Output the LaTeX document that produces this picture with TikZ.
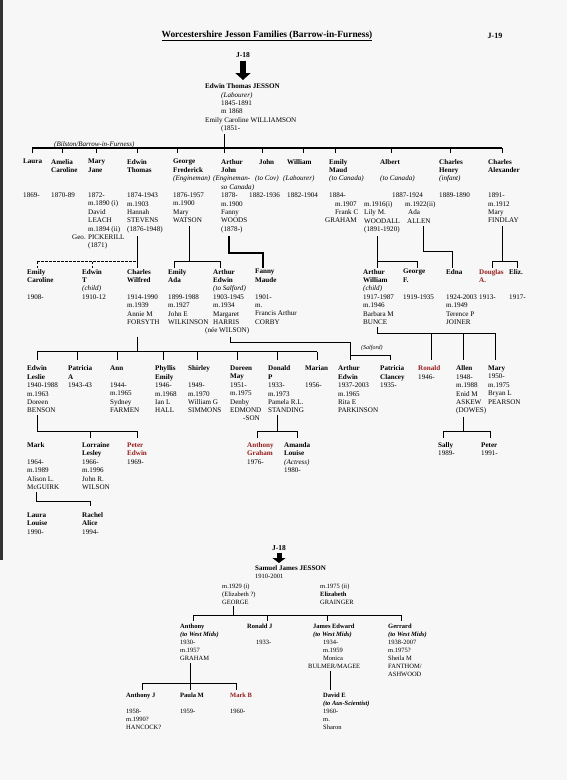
\documentclass[tikz,border=0pt]{standalone}
\usepackage{fontspec}
\setmainfont{Liberation Serif}
\usetikzlibrary{arrows.meta}
\definecolor{kinred}{RGB}{150,28,28}
\newcommand{\kin}[1]{\textcolor{kinred}{#1}}
\newcommand{\blankrow}{\mbox{}}

\begin{document}
\begin{tikzpicture}[
  x=1pt, y=-1pt,
  pers/.style={anchor=north west, align=left, inner sep=0pt,
               font=\fontsize{7.1}{8.4}\selectfont},
  perss/.style={pers, font=\fontsize{6.5}{8}\selectfont},
  head/.style={inner sep=0pt, font=\bfseries\fontsize{7.5}{9}\selectfont},
  note/.style={anchor=west, inner sep=0pt, font=\itshape\fontsize{6}{7}\selectfont},
  link/.style={line width=0.7pt},
  fatlink/.style={line width=1.8pt},
  dashlink/.style={line width=0.7pt, dash pattern=on 2.5pt off 1.5pt},
  bigarrow/.style={line width=6pt, -{Triangle[length=7pt,width=15pt]}},
]
% page
\fill[black!3] (0,0) rectangle (567,780);
\fill[black!80] (0,0) rectangle (2.5,560);
\useasboundingbox (0,0) rectangle (567,780);

% Heading
\node[inner sep=0pt, font=\bfseries\fontsize{9.4}{11}\selectfont] (title) at (267,36)
  {\underline{Worcestershire Jesson Families (Barrow-in-Furness)}};
\node[head, font=\bfseries\fontsize{8}{9}\selectfont] (j19) at (495,36) {J-19};
\node[head] (j18a) at (243,55) {J-18};
\node[pers] (edwinsr) at (205,83.5) {\textbf{Edwin Thomas JESSON}\\
  \hspace*{16pt}\textit{(Labourer)}\\ \hspace*{16pt}1845-1891\\ \hspace*{16pt}m 1868\\
  Emily Caroline WILLIAMSON\\ \hspace*{16pt}(1851-};
\draw[bigarrow] ([yshift=-3pt]j18a.south) -- ([yshift=3.5pt]j18a.south |- edwinsr.north);
\node[note, font=\itshape\fontsize{7}{8}\selectfont] (bilston) at (54,144.5) {(Bilston/Barrow-in-Furness)};

% Children of Edwin Thomas
\node[pers] (laura) at (23,159) {\textbf{Laura}\\ \blankrow\\ \blankrow\\ \blankrow\\ 1869-};
\node[pers] (amelia) at (51,159) {\textbf{Amelia}\\ \textbf{Caroline}\\ \blankrow\\ \blankrow\\ 1870-89};
\node[pers] (maryj) at (88,159) {\textbf{Mary}\\ \textbf{Jane}\\ \blankrow\\ \blankrow\\ 1872-\\
  m.1890 (i)\\ David\\ LEACH\\ m.1894 (ii)\\ \hspace*{-16pt}Geo. PICKERILL\\ (1871)};
\node[pers] (edwinth) at (127,159) {\textbf{Edwin}\\ \textbf{Thomas}\\ \blankrow\\ \blankrow\\
  1874-1943\\ m.1903\\ Hannah\\ STEVENS\\ (1876-1948)};
\node[pers] (georgef) at (173,159) {\textbf{George}\\ \textbf{Frederick}\\ \textit{(Engineman)}\\
  \blankrow\\ 1876-1957\\ m.1900\\ Mary\\ WATSON};
\node[pers] (arthurj) at (221,159) {\textbf{Arthur}\\ \textbf{John}\\ \hspace*{-8pt}\textit{(Engineman-}\\
  \textit{so Canada)}\\ 1878-\\ m.1900\\ Fanny\\ WOODS\\ (1878-)};
\node[pers] (johnc) at (259,159) {\textbf{John}\\ \blankrow\\ \hspace*{-4pt}\textit{(to Cov)}\\
  \blankrow\\ \hspace*{-10pt}1882-1936};
\node[pers] (william) at (287,159) {\textbf{William}\\ \blankrow\\ \hspace*{-4pt}\textit{(Labourer)}\\
  \blankrow\\ 1882-1904};
\node[pers] (emilym) at (329,159) {\textbf{Emily}\\ \textbf{Maud}\\ \textit{(to Canada)}\\ \blankrow\\
  1884-\\ \hspace*{6pt}m.1907\\ \hspace*{6pt}Frank C\\ \hspace*{-4pt}GRAHAM};
\node[pers] (albert) at (380,159) {\textbf{Albert}\\ \blankrow\\ \textit{(to Canada)}\\ \blankrow\\
  \hspace*{12pt}1887-1924};
\node[pers] (albsp1) at (364,201.2) {m.1916(i)\\ Lily M.\\ WOODALL\\ (1891-1920)};
\node[pers] (albsp2) at (405,201.2) {m.1922(ii)\\ \hspace*{3pt}Ada\\ \hspace*{2pt}ALLEN};
\node[pers] (charlesh) at (439,159) {\textbf{Charles}\\ \textbf{Henry}\\ \textit{(infant)}\\ \blankrow\\ 1889-1890};
\node[pers] (charlesa) at (488,159) {\textbf{Charles}\\ \textbf{Alexander}\\ \blankrow\\ \blankrow\\
  1891-\\ m.1912\\ Mary\\ FINDLAY};

\coordinate (b1) at (0,148);
\coordinate (e1) at (0,153);
\draw[link, line width=1pt] ([xshift=19pt,yshift=-2pt]edwinsr.south west) -- ([xshift=19pt]edwinsr.south west |- b1);
\draw[link, line width=1.1pt] ([xshift=9pt]laura.north west |- b1) -- ([xshift=14pt]charlesa.north west |- b1);
\foreach \p/\dx in {laura/9, amelia/11, maryj/8, edwinth/10, georgef/4, arthurj/3,
                    johnc/3, william/16, emilym/6, albert/11, charlesh/11, charlesa/14}
  \draw[link] ([xshift=\dx pt]\p.north west |- b1) -- ([xshift=\dx pt]\p.north west |- e1);

% Grandchildren
\node[pers] (emilyc) at (27,269) {\textbf{Emily}\\ \textbf{Caroline}\\ \blankrow\\ 1908-};
\node[pers] (edwint) at (82,269) {\textbf{Edwin}\\ \textbf{T}\\ \textit{(child)}\\ 1910-12};
\node[pers] (charlesw) at (127,269) {\textbf{Charles}\\ \textbf{Wilfred}\\ \blankrow\\ 1914-1990\\
  m.1939\\ Annie M\\ FORSYTH};
\node[pers] (emilya) at (168,269) {\textbf{Emily}\\ \textbf{Ada}\\ \blankrow\\ 1899-1988\\ m.1927\\
  John E\\ WILKINSON};
\node[pers] (arthure) at (213,269) {\textbf{Arthur}\\ \textbf{Edwin}\\ \textit{(to Salford)}\\ 1903-1945\\
  m.1934\\ Margaret\\ HARRIS\\ \hspace*{-8pt}(née WILSON)};
\node[pers] (fannym) at (255,269) {\textbf{Fanny}\\ \textbf{Maude}\\ \blankrow\\ 1901-\\ m.\\
  Francis Arthur\\ CORBY};
\node[pers] (arthurw) at (363,269) {\textbf{Arthur}\\ \textbf{William}\\ \textit{(child)}\\ 1917-1987\\
  m.1946\\ Barbara M\\ BUNCE};
\node[pers] (georgeb) at (403,269) {\textbf{George}\\ \textbf{F.}\\ \blankrow\\ 1919-1935};
\node[pers] (edna) at (446,269) {\textbf{Edna}\\ \blankrow\\ \blankrow\\ 1924-2003\\ m.1949\\
  Terence P\\ JOINER};
\node[pers] (douglas) at (479,269) {\textbf{\kin{Douglas}}\\ \textbf{\kin{A.}}\\ \blankrow\\ 1913-};
\node[pers] (eliz) at (509,269) {\textbf{Eliz.}\\ \blankrow\\ \blankrow\\ 1917-};

\coordinate (b2) at (0,261.7);
\coordinate (e2) at (0,268);
% Edwin Thomas / Mary Jane
\draw[link] ([xshift=10pt,yshift=-3pt]edwinth.south west) -- ([xshift=10pt]charlesw.north west |- e2);
\draw[dashlink] ([xshift=10pt]emilyc.north west |- b2) -- ([xshift=10pt]charlesw.north west |- b2);
\foreach \p in {emilyc, edwint}
  \draw[dashlink] ([xshift=10pt]\p.north west |- b2) -- ([xshift=10pt]\p.north west |- e2);
% George Frederick
\draw[link] ([xshift=16pt,yshift=-3pt]georgef.south west) -- ([xshift=16pt]georgef.south west |- b2);
\draw[link] ([xshift=6pt]emilya.north west |- e2) |- ([xshift=7pt]arthure.north west |- b2)
  -- ([xshift=7pt]arthure.north west |- e2);
% Arthur John
\coordinate (f2) at (0,253);
\draw[fatlink] ([xshift=8pt,yshift=-3pt]arthurj.south west) |- ([xshift=8pt]fannym.north west |- f2)
  -- ([xshift=8pt]fannym.north west |- e2);
% Albert
\draw[link] ([xshift=13pt,yshift=-3pt]albsp1.south west) -- ([xshift=14pt]arthurw.north west |- e2);
\draw[link] ([xshift=14pt]arthurw.north west |- b2) -| ([xshift=14pt]georgeb.north west |- e2);
\coordinate (a2) at (0,251.7);
\draw[link, line width=1pt] ([xshift=18pt,yshift=-3pt]albsp2.south west) |- ([xshift=6pt]edna.north west |- a2)
  -- ([xshift=6pt]edna.north west |- e2);
% Charles Alexander
\draw[link, line width=1pt] ([xshift=14pt,yshift=-3pt]charlesa.south west) -- ([xshift=14pt]charlesa.south west |- b2);
\draw[link, line width=1pt] ([xshift=13pt]douglas.north west |- e2) |- ([xshift=8pt]eliz.north west |- b2)
  -- ([xshift=8pt]eliz.north west |- e2);

% Great-grandchildren
\node[pers] (edwinl) at (27,365.7) {\textbf{Edwin}\\ \textbf{Leslie}\\ 1940-1988\\ m.1963\\ Doreen\\ BENSON};
\node[pers] (patriciaa) at (68,365.7) {\textbf{Patricia}\\ \textbf{A}\\ 1943-43};
\node[pers] (ann) at (110,365.7) {\textbf{Ann}\\ \blankrow\\ 1944-\\ m.1965\\ Sydney\\ FARMEN};
\node[pers] (phyllis) at (155,365.7) {\textbf{Phyllis}\\ \textbf{Emily}\\ 1946-\\ m.1968\\ Ian L\\ HALL};
\node[pers] (shirley) at (188,365.7) {\textbf{Shirley}\\ \blankrow\\ 1949-\\ m.1970\\ William G\\ SIMMONS};
\node[pers] (doreen) at (230,365.7) {\textbf{Doreen}\\ \textbf{May}\\ 1951-\\ m.1975\\ Denby\\ EDMOND\\
  \hspace*{13pt}-SON};
\node[pers] (donald) at (268,365.7) {\textbf{Donald}\\ \textbf{P}\\ 1933-\\ m.1973\\ Pamela R.L.\\ STANDING};
\node[pers] (marian) at (305,365.7) {\textbf{Marian}\\ \blankrow\\ 1956-};
\node[pers] (arthured) at (338,365.7) {\textbf{Arthur}\\ \textbf{Edwin}\\ 1937-2003\\ m.1965\\ Rita E\\ PARKINSON};
\node[pers] (patriciac) at (380,365.7) {\textbf{Patricia}\\ \textbf{Clancey}\\ 1935-};
\node[pers] (ronald) at (418,365.7) {\textbf{\kin{Ronald}}\\ 1946-};
\node[pers] (allen) at (456,365.7) {\textbf{Allen}\\ 1948-\\ m.1988\\ Enid M\\ ASKEW\\ (DOWES)};
\node[pers] (mary) at (488,365.7) {\textbf{Mary}\\ 1950-\\ m.1975\\ Bryan L\\ PEARSON};

\coordinate (t3) at (0,336.7);
\coordinate (b3) at (0,351.7);
\coordinate (e3) at (0,359.5);
% Charles Wilfred
\draw[link] ([xshift=10pt]charlesw.south west |- t3) -- ([xshift=10pt]charlesw.south west |- b3);
\draw[link] ([xshift=10pt]edwinl.north west |- b3) -- ([xshift=12pt]marian.north west |- b3);
\foreach \p/\dx in {edwinl/10, patriciaa/9, ann/7, phyllis/8, shirley/9, doreen/7, donald/9, marian/12}
  \draw[link] ([xshift=\dx pt]\p.north west |- b3) -- ([xshift=\dx pt]\p.north west |- e3);
% Arthur Edwin (Salford)
\coordinate (s3) at (0,342.5);
\coordinate (c3) at (0,355.5);
\draw[link] ([xshift=17pt]arthure.south west |- t3) |- ([xshift=12pt]arthured.north west |- s3)
  -- ([xshift=12pt]arthured.north west |- e3);
\draw[link] ([xshift=12pt]arthured.north west |- c3) -| ([xshift=10pt]patriciac.north west |- e3);
\node[note] (salford) at (361,348) {(Salford)};
% Arthur William
\coordinate (u3) at (0,333.3);
\draw[link] ([xshift=14pt,yshift=-2pt]arthurw.south west) |- ([xshift=7pt]mary.north west |- u3);
\foreach \p/\dx in {ronald/13, allen/7, mary/7}
  \draw[link] ([xshift=\dx pt]\p.north west |- u3) -- ([xshift=\dx pt]\p.north west |- e3);

% Next generation
\node[pers] (mark) at (27,442.4) {\textbf{Mark}\\ \blankrow\\ 1964-\\ m.1989\\ Alison L.\\ McGUIRK};
\node[pers] (lorraine) at (82,442.4) {\textbf{Lorraine}\\ \textbf{Lesley}\\ 1966-\\ m.1996\\ John R.\\ WILSON};
\node[pers] (petere) at (127,442.4) {\textbf{\kin{Peter}}\\ \textbf{\kin{Edwin}}\\ 1969-};
\node[pers] (anthonyg) at (247,442.4) {\textbf{\kin{Anthony}}\\ \textbf{\kin{Graham}}\\ 1976-};
\node[pers] (amanda) at (284,442.4) {\textbf{Amanda}\\ \textbf{Louise}\\ \textit{(Actress)}\\ 1980-};
\node[pers] (sally) at (438,442.4) {\textbf{Sally}\\ 1989-};
\node[pers] (peterb) at (481,442.4) {\textbf{Peter}\\ 1991-};

\coordinate (b4) at (0,431.7);
\coordinate (e4) at (0,438);
\draw[link] ([xshift=10pt,yshift=-2pt]edwinl.south west) |- ([xshift=10pt]petere.north west |- b4)
  -- ([xshift=10pt]petere.north west |- e4);
\draw[link] ([xshift=8pt]lorraine.north west |- b4) -- ([xshift=8pt]lorraine.north west |- e4);
\draw[link] ([xshift=9pt,yshift=-2pt]donald.south west) -- ([xshift=9pt]donald.south west |- b4);
\draw[link] ([xshift=10pt]anthonyg.north west |- e4) |- ([xshift=13pt]amanda.north west |- b4)
  -- ([xshift=13pt]amanda.north west |- e4);
\draw[link] ([xshift=7pt,yshift=-2pt]allen.south west) -- ([xshift=7pt]allen.south west |- b4);
\draw[link] ([xshift=5pt]sally.north west |- e4) |- ([xshift=9pt]peterb.north west |- b4)
  -- ([xshift=9pt]peterb.north west |- e4);

\node[pers] (laural) at (27,512.4) {\textbf{Laura}\\ \textbf{Louise}\\ 1990-};
\node[pers] (rachel) at (82,512.4) {\textbf{Rachel}\\ \textbf{Alice}\\ 1994-};
\coordinate (b5) at (0,501.7);
\coordinate (e5) at (0,506);
\draw[link] ([xshift=9pt,yshift=-2pt]mark.south west) |- ([xshift=8pt]rachel.north west |- b5)
  -- ([xshift=8pt]rachel.north west |- e5);

% Samuel James JESSON
\node[head] (j18b) at (279,548) {J-18};
\node[perss] (samuel) at (255,565.5) {\textbf{\fontsize{7}{8}\selectfont Samuel James JESSON}\\ 1910-2001};
\draw[bigarrow, line width=5pt, -{Triangle[length=5pt,width=13pt]}] ([yshift=-2pt]j18b.south) -- ([yshift=2.5pt]j18b.south |- samuel.north);
\node[perss] (sjsp1) at (222,583.5) {m.1929 (i)\\ (Elizabeth ?)\\ GEORGE};
\node[perss] (sjsp2) at (320,583.5) {m.1975 (ii)\\ \textbf{Elizabeth}\\ GRAINGER};

\node[perss] (anthony) at (180,624) {\textbf{Anthony}\\ \textbf{\textit{(to West Mids)}}\\ 1930-\\ m.1957\\ GRAHAM};
\node[perss] (ronaldj) at (247,624) {\textbf{Ronald J}\\ \blankrow\\ \hspace*{9pt}1933-};
\node[perss] (jamese) at (313,624) {\textbf{James Edward}\\ \textbf{\textit{(to West Mids)}}\\ \hspace*{10pt}1934-\\
  \hspace*{10pt}m.1959\\ \hspace*{10pt}Monica\\ \hspace*{-5pt}BULMER/MAGEE};
\node[perss] (gerrard) at (388,624) {\textbf{Gerrard}\\ \textbf{\textit{(to West Mids)}}\\ 1938-2007\\ m.1975?\\
  Sheila M\\ FANTHOM/\\ ASHWOOD};

\coordinate (b6) at (0,615);
\coordinate (e6) at (0,621);
\draw[link] ([xshift=11pt,yshift=-2pt]sjsp1.south west) -- ([xshift=11pt]sjsp1.south west |- b6);
\draw[link] ([xshift=13pt]anthony.north west |- b6) -- ([xshift=13pt]gerrard.north west |- b6);
\foreach \p/\dx in {anthony/13, ronaldj/20, jamese/14, gerrard/13}
  \draw[link] ([xshift=\dx pt]\p.north west |- b6) -- ([xshift=\dx pt]\p.north west |- e6);

\node[perss] (anthonyj) at (126,692.5) {\textbf{Anthony J}\\ \blankrow\\ 1958-\\ m.1990?\\ HANCOCK?};
\node[perss] (paula) at (180,692.5) {\textbf{Paula M}\\ \blankrow\\ 1959-};
\node[perss] (markb) at (230,692.5) {\textbf{\kin{Mark B}}\\ \blankrow\\ 1960-};
\node[perss] (davide) at (323,692.5) {\textbf{David E}\\ \textbf{\textit{(to Aus-Scientist)}}\\ 1960-\\ m.\\ Sharon};

\coordinate (b7) at (0,683.3);
\coordinate (e7) at (0,690);
\draw[link] ([xshift=10pt,yshift=-2pt]anthony.south west) -- ([xshift=10pt]paula.north west |- e7);
\draw[link] ([xshift=16pt]anthonyj.north west |- e7) |- ([xshift=6pt]markb.north west |- b7)
  -- ([xshift=6pt]markb.north west |- e7);
\draw[link] ([xshift=17pt,yshift=-2pt]jamese.south west) -- ([xshift=7pt]davide.north west |- e7);
\end{tikzpicture}
\end{document}
